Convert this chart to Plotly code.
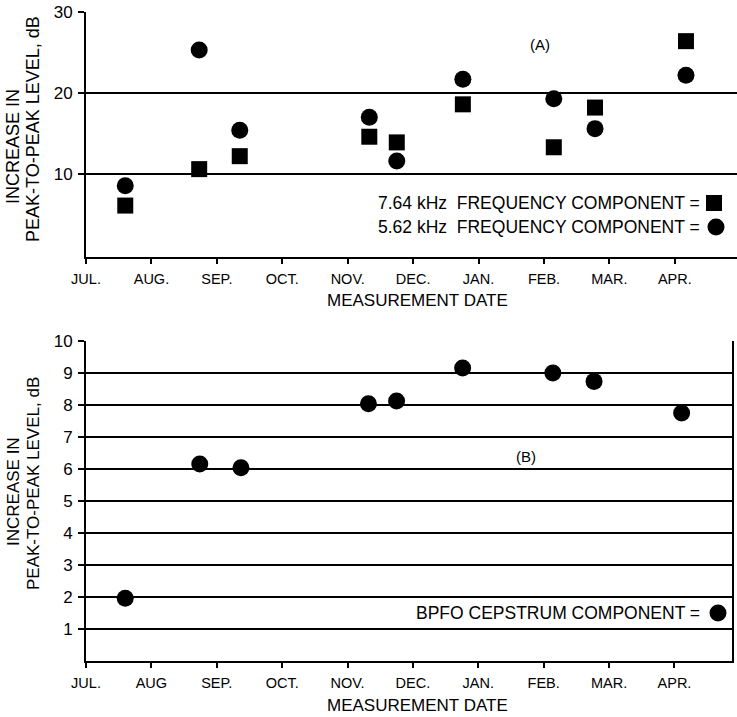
import plotly.graph_objects as go

W, H = 737, 717

# ---- data (months measured from JUL. = 0) ----
month_labels_a = ["JUL.", "AUG.", "SEP.", "OCT.", "NOV.", "DEC.", "JAN.", "FEB.", "MAR.", "APR."]
month_labels_b = ["JUL.", "AUG", "SEP.", "OCT.", "NOV.", "DEC.", "JAN.", "FEB.", "MAR.", "APR."]
month_ticks = [0, 1, 2, 3, 4, 5, 6, 7, 8, 9]

dates_a = [0.60, 1.73, 2.35, 4.33, 4.75, 5.76, 7.15, 7.78, 9.17]
khz_764 = [6.1, 10.6, 12.2, 14.6, 13.9, 18.6, 13.3, 18.2, 26.4]
khz_562 = [8.55, 25.3, 15.4, 17.0, 11.6, 21.7, 19.3, 15.6, 22.2]

dates_b = [0.60, 1.74, 2.37, 4.32, 4.75, 5.76, 7.14, 7.77, 9.11]
bpfo = [1.96, 6.15, 6.03, 8.03, 8.12, 9.15, 8.99, 8.73, 7.74]

yticks_a = [10, 20, 30]
yticks_b = [1, 2, 3, 4, 5, 6, 7, 8, 9, 10]

FONT = "Liberation Sans"
BLACK = "black"


def px(x):
    return x / W


def py(y):
    return (H - y) / H


fig = go.Figure()
fig.add_trace(go.Scatter(x=dates_a, y=khz_764, mode="markers", xaxis="x", yaxis="y",
                         marker=dict(symbol="square", size=16, color=BLACK), showlegend=False))
fig.add_trace(go.Scatter(x=dates_a, y=khz_562, mode="markers", xaxis="x", yaxis="y",
                         marker=dict(symbol="circle", size=17, color=BLACK), showlegend=False))
fig.add_trace(go.Scatter(x=dates_b, y=bpfo, mode="markers", xaxis="x2", yaxis="y2",
                         marker=dict(symbol="circle", size=17, color=BLACK), showlegend=False))

xcommon = dict(showline=True, linecolor=BLACK, linewidth=2, ticks="outside", ticklen=5,
               tickwidth=2, tickcolor=BLACK, showgrid=False, zeroline=False, automargin=False,
               tickfont=dict(family=FONT, size=14.5, color=BLACK), ticklabelstandoff=3,
               tickvals=month_ticks)
ycommon = dict(showline=True, linecolor=BLACK, linewidth=2, ticks="outside", ticklen=6,
               tickwidth=2, tickcolor=BLACK, showgrid=True, gridcolor=BLACK, gridwidth=2,
               zeroline=False, automargin=False, ticklabelstandoff=2,
               tickfont=dict(family=FONT, size=17, color=BLACK))

fig.update_layout(
    template="none",
    width=W, height=H, margin=dict(l=0, r=0, t=0, b=0, autoexpand=False),
    paper_bgcolor="white", plot_bgcolor="white", showlegend=False,
    xaxis=dict(domain=[px(86), 1.0], range=[0, 9.95], anchor="y",
               ticktext=month_labels_a, **xcommon),
    yaxis=dict(domain=[py(257), py(12)], range=[-0.25, 30], anchor="x",
               tickvals=yticks_a, ticktext=[str(v) for v in yticks_a], **ycommon),
    xaxis2=dict(domain=[px(86), px(732)], range=[0, 9.88], anchor="y2",
                ticktext=month_labels_b, **xcommon),
    yaxis2=dict(domain=[py(661), py(340.7)], range=[0, 10], anchor="x2", mirror=True,
                tickvals=yticks_b, ticktext=[str(v) for v in yticks_b], **ycommon),
)

ann = []


def text(x, y, s, size=16, angle=0, xanchor="center"):
    ann.append(dict(x=px(x), y=py(y), xref="paper", yref="paper", text=s, showarrow=False,
                    textangle=angle, xanchor=xanchor, yanchor="middle",
                    font=dict(family=FONT, size=size, color=BLACK)))


# y-axis titles
text(13, 147, "INCREASE IN", size=18, angle=-90)
text(33, 129, "PEAK-TO-PEAK LEVEL, dB", size=18, angle=-90)
text(13, 492, "INCREASE IN", size=17, angle=-90)
text(33, 484, "PEAK-TO-PEAK LEVEL, dB", size=17, angle=-90)
# x-axis titles
text(417, 300, "MEASUREMENT DATE", size=17)
text(417, 705, "MEASUREMENT DATE", size=17)
# panel labels
text(540, 44, "(A)", size=15)
text(526, 457, "(B)", size=15)
# legends
text(702, 203, "7.64 kHz  FREQUENCY COMPONENT =", size=17.5, xanchor="right")
text(702, 227, "5.62 kHz  FREQUENCY COMPONENT =", size=17.5, xanchor="right")
text(702, 613, "BPFO CEPSTRUM COMPONENT =", size=17.5, xanchor="right")

fig.update_layout(annotations=ann)

shapes = [
    dict(type="rect", xref="paper", yref="paper", x0=px(706), x1=px(722), y0=py(211), y1=py(195),
         fillcolor=BLACK, line=dict(width=0)),
    dict(type="circle", xref="paper", yref="paper", x0=px(707.5), x1=px(724.5), y0=py(235.5), y1=py(218.5),
         fillcolor=BLACK, line=dict(width=0)),
    dict(type="circle", xref="paper", yref="paper", x0=px(709.5), x1=px(726.5), y0=py(621.5), y1=py(604.5),
         fillcolor=BLACK, line=dict(width=0)),
]
fig.update_layout(shapes=shapes)

fig.write_html("out.html")
